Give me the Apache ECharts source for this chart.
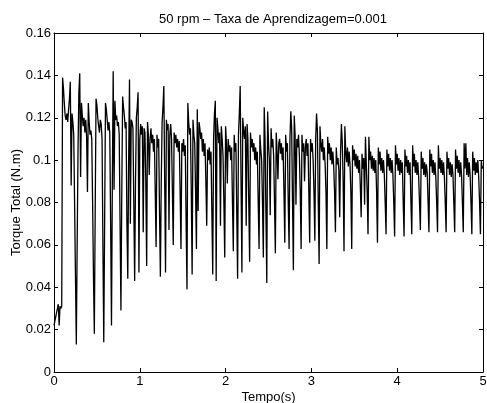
<!DOCTYPE html>
<html>
<head>
<meta charset="utf-8">
<script src="https://cdn.jsdelivr.net/npm/echarts@6/dist/echarts.min.js"></script>
<style>
  html, body { margin: 0; padding: 0; background: #fff; }
  #grafico { width: 487px; height: 403px; }
</style>
</head>
<body>
<div id="grafico"></div>
<script>
// amostragem do sinal (s)
var passo = 0.01;
var ticksTempo = [0, 1, 2, 3, 4, 5];
var ticksTorque = [0, 0.02, 0.04, 0.06, 0.08, 0.1, 0.12, 0.14, 0.16];

// torque total, em mN.m (uma linha = 0.1 s)
var torque_mNm = [
    22, 24, 26, 28, 30, 32, 22, 31, 30, 31,
    139, 134, 127, 121, 119, 122, 118, 124, 129, 137,
    88, 122, 118, 112, 80, 46, 13, 60, 105, 132,
    141, 92, 127, 121, 116, 120, 113, 119, 111, 85,
    127, 118, 112, 114, 110, 80, 45, 18, 75, 129,
    126, 120, 116, 113, 119, 117, 110, 60, 14, 70,
    127, 124, 119, 114, 118, 113, 70, 22, 90, 142,
    86, 128, 119, 121, 116, 118, 112, 70, 29, 85,
    130, 125, 121, 115, 118, 70, 44, 100, 138, 70,
    119, 118, 115, 80, 43, 90, 120, 125, 132, 47,
    110, 117, 112, 116, 66, 115, 113, 90, 50, 118,
    112, 93, 110, 115, 108, 112, 104, 110, 85, 59,
    112, 106, 110, 75, 45, 90, 118, 125, 135, 90,
    47, 119, 114, 117, 67, 112, 117, 110, 85, 60,
    113, 108, 112, 106, 110, 104, 109, 85, 58, 108,
    104, 110, 102, 107, 70, 39, 127, 118, 112, 115,
    85, 46, 119, 112, 108, 85, 58, 124, 76, 118,
    115, 110, 113, 104, 110, 102, 108, 90, 69, 105,
    100, 106, 98, 104, 75, 46, 110, 122, 128, 43,
    120, 115, 108, 113, 69, 116, 110, 102, 80, 54,
    116, 108, 89, 110, 104, 107, 100, 106, 80, 57,
    112, 104, 108, 75, 44, 112, 122, 135, 90, 47,
    120, 114, 110, 116, 69, 117, 110, 80, 52, 113,
    106, 110, 104, 108, 100, 106, 98, 104, 80, 58,
    112, 105, 100, 80, 54, 125, 110, 75, 42, 123,
    108, 100, 74, 115, 106, 110, 102, 80, 56, 113,
    104, 91, 108, 110, 103, 108, 100, 106, 85, 61,
    112, 104, 108, 80, 58, 110, 123, 115, 80, 48,
    121, 112, 79, 110, 106, 112, 102, 85, 58, 112,
    104, 108, 90, 106, 110, 102, 108, 85, 61, 110,
    104, 108, 100, 85, 62, 110, 122, 114, 80, 51,
    116, 108, 104, 110, 100, 106, 98, 85, 58, 111,
    103, 108, 100, 106, 98, 104, 97, 85, 66, 106,
    98, 101, 95, 73, 104, 117, 108, 90, 57, 116,
    104, 99, 106, 97, 104, 98, 85, 58, 107, 100,
    105, 97, 103, 96, 102, 94, 100, 88, 73, 103,
    96, 101, 79, 111, 98, 85, 65, 111, 100, 104,
    96, 102, 95, 101, 94, 100, 85, 61, 106, 98,
    104, 95, 101, 94, 100, 93, 80, 65, 105, 97,
    103, 95, 101, 94, 100, 93, 80, 64, 107, 98,
    103, 95, 101, 93, 100, 94, 99, 80, 64, 105,
    97, 102, 94, 100, 93, 99, 80, 65, 107, 97,
    103, 94, 100, 93, 99, 92, 80, 67, 104, 96,
    101, 93, 99, 92, 98, 94, 80, 66, 105, 97,
    103, 94, 100, 93, 99, 92, 80, 66, 107, 96,
    101, 94, 100, 93, 99, 92, 80, 66, 104, 96,
    101, 93, 99, 92, 98, 93, 80, 66, 105, 96,
    102, 94, 100, 92, 99, 93, 80, 66, 108, 96,
    108, 93, 101, 92, 99, 93, 80, 65, 104, 95,
    101, 93, 99, 94, 100, 92, 80, 65, 100, 96,
    97
];

var pontos = torque_mNm.map(function (v, i) {
    return [+(i * passo).toFixed(2), v / 1000];
});

var fonte = '"Liberation Sans", Arial, Helvetica, sans-serif';
var myChart = echarts.init(document.getElementById('grafico'));

var option = {
    animation: false,
    backgroundColor: '#fff',
    title: {
        text: '50 rpm \u2013 Taxa de Aprendizagem=0.001',
        left: 268,
        top: 8,
        textAlign: 'center',
        textStyle: {
            fontFamily: fonte,
            fontSize: 13,
            fontWeight: 'normal',
            color: '#000'
        }
    },
    grid: {
        left: 54,
        right: 4,
        top: 33,
        bottom: 31,
        containLabel: false,
        outerBoundsMode: 'none'
    },
    xAxis: [{
        type: 'value',
        min: ticksTempo[0],
        max: ticksTempo[ticksTempo.length - 1],
        interval: 1,
        name: 'Tempo(s)',
        nameLocation: 'middle',
        nameGap: 19,
        nameMoveOverlap: false,
        nameTextStyle: { fontFamily: fonte, fontSize: 13, color: '#000' },
        axisLine: { onZero: false, lineStyle: { color: '#000', width: 1 } },
        axisTick: { inside: true, length: 4, lineStyle: { color: '#000' } },
        axisLabel: { margin: 3, fontFamily: fonte, fontSize: 13, color: '#000' },
        splitLine: { show: false }
    }, {
        type: 'value',
        position: 'top',
        min: ticksTempo[0],
        max: ticksTempo[ticksTempo.length - 1],
        interval: 1,
        axisLine: { onZero: false, lineStyle: { color: '#000', width: 1 } },
        axisTick: { inside: true, length: 4, lineStyle: { color: '#000' } },
        axisLabel: { show: false },
        splitLine: { show: false }
    }],
    yAxis: [{
        type: 'value',
        min: ticksTorque[0],
        max: ticksTorque[ticksTorque.length - 1],
        interval: 0.02,
        name: 'Torque Total (N.m)',
        nameLocation: 'middle',
        nameGap: 31,
        nameMoveOverlap: false,
        nameTextStyle: { fontFamily: fonte, fontSize: 13, color: '#000' },
        axisLine: { show: true, onZero: false, lineStyle: { color: '#000', width: 1 } },
        axisTick: { show: true, inside: true, length: 4, lineStyle: { color: '#000' } },
        axisLabel: { margin: 3, fontFamily: fonte, fontSize: 13, color: '#000' },
        splitLine: { show: false }
    }, {
        type: 'value',
        position: 'right',
        min: ticksTorque[0],
        max: ticksTorque[ticksTorque.length - 1],
        interval: 0.02,
        axisLine: { show: true, onZero: false, lineStyle: { color: '#000', width: 1 } },
        axisTick: { show: true, inside: true, length: 4, lineStyle: { color: '#000' } },
        axisLabel: { show: false },
        splitLine: { show: false }
    }],
    series: [{
        type: 'line',
        xAxisIndex: 0,
        yAxisIndex: 0,
        data: pontos,
        showSymbol: false,
        symbol: 'none',
        sampling: false,
        lineStyle: { color: '#000', width: 1.3 },
        z: 3
    }]
};

myChart.setOption(option);
</script>
</body>
</html>
